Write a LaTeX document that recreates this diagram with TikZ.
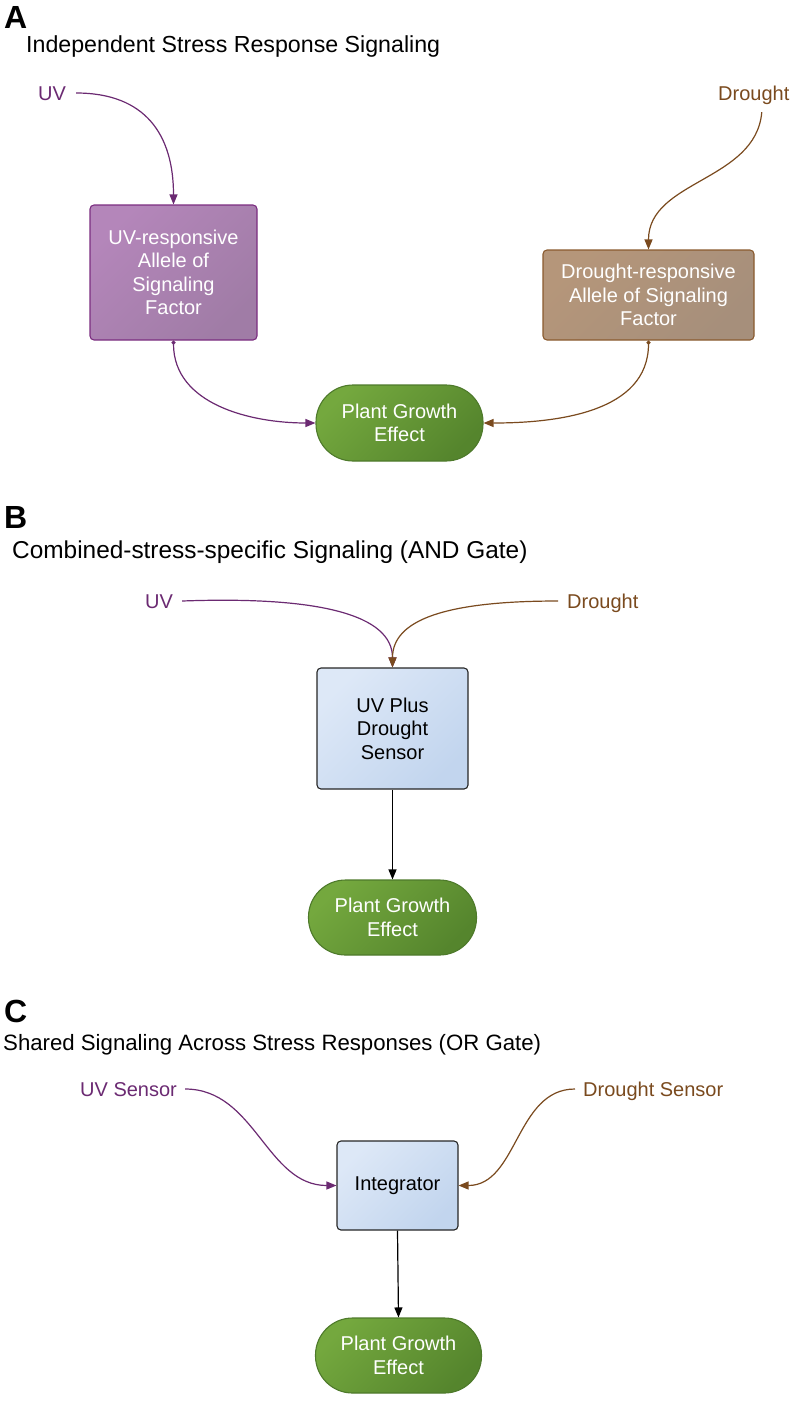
\documentclass[tikz,border=0pt]{standalone}
\usepackage{fontspec}
\setmainfont{Liberation Sans}
\usetikzlibrary{arrows.meta}
\definecolor{uvc}{HTML}{6B2A72}
\definecolor{drc}{HTML}{7A4A1E}
\definecolor{uvfillA}{HTML}{B486BA}
\definecolor{uvfillB}{HTML}{A07CA6}
\definecolor{uvline}{HTML}{7B2D80}
\definecolor{drfillA}{HTML}{B5967A}
\definecolor{drfillB}{HTML}{A68F7B}
\definecolor{drline}{HTML}{8A5A2E}
\definecolor{grA}{HTML}{74A83E}
\definecolor{grB}{HTML}{55852D}
\definecolor{grline}{HTML}{4E7A2B}
\definecolor{blA}{HTML}{DDE8F7}
\definecolor{blB}{HTML}{C2D5EE}
\begin{document}
\begin{tikzpicture}[x=1pt,y=-1pt,
  panel/.style={anchor=base west,inner sep=0pt,font=\fontsize{32}{36}\selectfont\bfseries},
  ttl/.style={anchor=base west,inner sep=0pt},
  lbl/.style={anchor=west,inner sep=0pt,text height=14pt,text depth=0pt,font=\fontsize{20}{24}\selectfont},
  box/.style={draw,rounded corners=4pt,inner sep=0pt,align=center,line width=1.1pt,font=\fontsize{20}{23.5}\selectfont},
  uvbox/.style={box,draw=uvline,top color=uvfillA,bottom color=uvfillB,shading angle=45,text=white},
  drbox/.style={box,draw=drline,top color=drfillA,bottom color=drfillB,shading angle=45,text=white},
  blbox/.style={box,draw=black!85,top color=blA,bottom color=blB,shading angle=45,text=black},
  pill/.style={box,draw=grline,top color=grA,bottom color=grB,shading angle=45,text=white,rounded corners=37pt,minimum width=167pt,minimum height=76pt},
  arr/.style={-{Triangle[length=10pt,width=8pt]},line width=1.2pt},
  darr/.style={{Circle[length=4pt]}-{Triangle[length=10pt,width=8pt]},line width=1.2pt}
]
\useasboundingbox (0,0) rectangle (793,1401);

% ---------- Panel A ----------
\node[panel] (pA) at (4,28) {A};
\node[ttl,font=\fontsize{23.2}{27}\selectfont] (tA) at (26,52) {Independent Stress Response Signaling};
\node[lbl,text=uvc] (uvA) at (38,93) {UV};
\node[lbl,text=drc] (drA) at (718,93) {Drought};
\node[uvbox,minimum width=167pt,minimum height=135pt] (uvboxA) at (173.5,272.5) {UV-responsive\\Allele of\\Signaling\\Factor};
\node[drbox,minimum width=211pt,minimum height=90pt] (drboxA) at (648.5,295) {Drought-responsive\\Allele of Signaling\\Factor};
\node[pill] (pillA) at (399.5,423) {Plant Growth\\Effect};

\draw[arr,uvc] ([xshift=10pt]uvA.east) to[out=0,in=90,looseness=1.2] (uvboxA.north);
\draw[arr,drc] ([xshift=8pt,yshift=-12pt]drA.south) to[out=-95,in=90] (drboxA.north);
\draw[darr,uvc] (uvboxA.south) to[out=-90,in=180] (pillA.west);
\draw[darr,drc] (drboxA.south) to[out=-90,in=0] (pillA.east);

% ---------- Panel B ----------
\node[panel] (pB) at (4,528) {B};
\node[ttl,font=\fontsize{24.4}{28}\selectfont] (tB) at (12,558) {Combined-stress-specific Signaling (AND Gate)};
\node[lbl,text=uvc] (uvB) at (145,601) {UV};
\node[lbl,text=drc] (drB) at (567,601) {Drought};
\node[blbox,minimum width=151pt,minimum height=121pt] (sensB) at (392.5,728.5) {UV Plus\\Drought\\Sensor};
\node[pill,minimum width=168pt,minimum height=75pt] (pillB) at (392.5,917.5) {Plant Growth\\Effect};

\draw[arr,uvc] ([xshift=9pt]uvB.east) .. controls (320,596) and (392.5,615) .. (sensB.north);
\draw[arr,drc] ([xshift=-9pt]drB.west) .. controls (445,601) and (392.5,620) .. (sensB.north);
\draw[arr,black] (sensB.south) -- (pillB.north);

% ---------- Panel C ----------
\node[panel] (pC) at (4,1022) {C};
\node[ttl,font=\fontsize{22.2}{26}\selectfont] (tC) at (3,1050) {Shared Signaling Across Stress Responses (OR Gate)};
\node[lbl,text=uvc] (uvC) at (80,1089) {UV Sensor};
\node[lbl,text=drc] (drC) at (583,1089) {Drought Sensor};
\node[blbox,minimum width=121pt,minimum height=89pt] (integ) at (397.5,1185.5) {Integrator};
\node[pill,minimum width=166pt,minimum height=75pt] (pillC) at (398.5,1355.5) {Plant Growth\\Effect};

\draw[arr,uvc] ([xshift=8pt]uvC.east) to[out=0,in=180] (integ.west);
\draw[arr,drc] ([xshift=-8pt]drC.west) to[out=180,in=0] (integ.east);
\draw[arr,black] (integ.south) -- (pillC.north);
\end{tikzpicture}
\end{document}
